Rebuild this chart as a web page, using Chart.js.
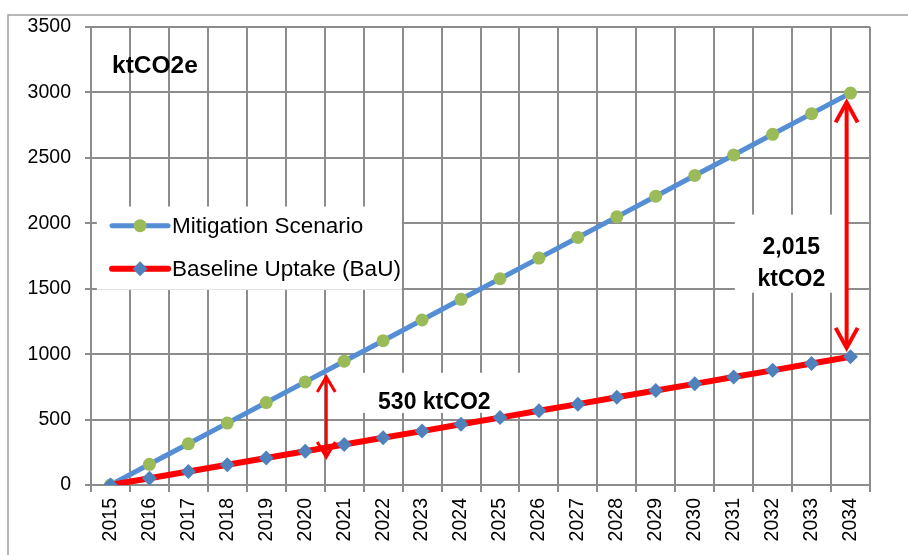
<!DOCTYPE html>
<html>
<head>
<meta charset="utf-8">
<script src="https://cdn.jsdelivr.net/npm/chart.js@4/dist/chart.umd.min.js"></script>
<style>
  html, body { margin: 0; padding: 0; background: #fff; }
  canvas { display: block; }
</style>
</head>
<body>
<canvas id="c" width="908" height="555"></canvas>
<script>
// ---- data ----
const years = ['2015','2016','2017','2018','2019','2020','2021','2022','2023','2024',
               '2025','2026','2027','2028','2029','2030','2031','2032','2033','2034'];
const mitigation = [0, 158, 315, 473, 630, 788, 946, 1103, 1261, 1419,
                    1576, 1734, 1892, 2049, 2207, 2365, 2522, 2680, 2838, 2995];
const baseline = [0, 52, 103, 155, 206, 258, 309, 361, 412, 464,
                  515, 567, 618, 670, 722, 773, 825, 876, 928, 980];
const yTicks = [0, 500, 1000, 1500, 2000, 2500, 3000, 3500];
const seriesNames = ['Mitigation Scenario', 'Baseline Uptake (BaU)'];
const unitLabel = 'ktCO2e';
const gapLabels = ['530 ktCO2', '2,015', 'ktCO2'];

const FONT = "'Liberation Sans', Arial, sans-serif";
const GRID = '#8c8c8c';

// annotation placement in data units (x: category index, y: value)
const notes = {
  unit:   { x: 0.04, y: 3145 },
  gap1:   { x: 6.87, y: 582, box: [6.02, 857, 10.9, 551] },
  gap2:   { x: 17.48, y1: 1768, y2: 1523, box: [16.03, 2066, 18.86, 1469] },
  legend: { box: [-0.35, 2128, 7.48, 1492], x0: 0.04, x1: 1.48, tx: 1.58, rows: [1982, 1653] },
  arrow1: { x: 5.54, top: 826, bottom: 214, hw: 9, hl: 15, lw: 3 },
  arrow2: { x: 18.9, top: 2924, bottom: 1048, hw: 11, hl: 20, lw: 4 }
};

const frame = {
  id: 'frame',
  beforeDraw(chart) {
    const ctx = chart.ctx;
    ctx.save();
    ctx.fillStyle = '#fff';
    ctx.fillRect(0, 0, chart.width, chart.height);
    ctx.strokeStyle = '#a0a0a0';
    ctx.lineWidth = 1.5;
    ctx.beginPath();
    ctx.moveTo(8, chart.height + 5);
    ctx.lineTo(8, 15);
    ctx.lineTo(chart.width + 5, 15);
    ctx.stroke();
    ctx.restore();
  }
};

function box(chart, b) {
  const xs = chart.scales.x, ys = chart.scales.y;
  const x0 = xs.getPixelForValue(b[0]), x1 = xs.getPixelForValue(b[2]);
  const y0 = ys.getPixelForValue(b[1]), y1 = ys.getPixelForValue(b[3]);
  chart.ctx.fillStyle = '#fff';
  chart.ctx.fillRect(x0, y0, x1 - x0, y1 - y0);
}

function arrow(chart, a) {
  const ctx = chart.ctx, xs = chart.scales.x, ys = chart.scales.y;
  const x = xs.getPixelForValue(a.x);
  const yt = ys.getPixelForValue(a.top), yb = ys.getPixelForValue(a.bottom);
  ctx.save();
  ctx.strokeStyle = '#ff0000';
  ctx.lineWidth = a.lw;
  ctx.lineCap = 'butt';
  ctx.lineJoin = 'miter';
  ctx.beginPath();
  ctx.moveTo(x, yt + 2); ctx.lineTo(x, yb - 2);
  ctx.stroke();
  ctx.beginPath();
  ctx.moveTo(x - a.hw, yt + a.hl); ctx.lineTo(x, yt); ctx.lineTo(x + a.hw, yt + a.hl);
  ctx.stroke();
  ctx.beginPath();
  ctx.moveTo(x - a.hw, yb - a.hl); ctx.lineTo(x, yb); ctx.lineTo(x + a.hw, yb - a.hl);
  ctx.stroke();
  ctx.restore();
}

const notesPlugin = {
  id: 'notes',
  beforeDatasetsDraw(chart) {
    const ctx = chart.ctx;
    ctx.save();
    box(chart, notes.gap1.box);
    box(chart, notes.gap2.box);
    box(chart, notes.legend.box);
    ctx.restore();
  },
  afterDatasetsDraw(chart) {
    const ctx = chart.ctx, xs = chart.scales.x, ys = chart.scales.y;
    ctx.save();
    ctx.fillStyle = '#000';
    ctx.textBaseline = 'alphabetic';
    // unit label
    ctx.font = 'bold 24.5px ' + FONT;
    ctx.textAlign = 'left';
    ctx.fillText(unitLabel, xs.getPixelForValue(notes.unit.x), ys.getPixelForValue(notes.unit.y));
    // gap labels
    ctx.font = 'bold 23px ' + FONT;
    ctx.fillText(gapLabels[0], xs.getPixelForValue(notes.gap1.x), ys.getPixelForValue(notes.gap1.y));
    ctx.textAlign = 'center';
    ctx.fillText(gapLabels[1], xs.getPixelForValue(notes.gap2.x), ys.getPixelForValue(notes.gap2.y1));
    ctx.fillText(gapLabels[2], xs.getPixelForValue(notes.gap2.x), ys.getPixelForValue(notes.gap2.y2));
    ctx.restore();

    arrow(chart, notes.arrow1);
    arrow(chart, notes.arrow2);

    // legend
    ctx.save();
    const L = notes.legend;
    const lx0 = xs.getPixelForValue(L.x0), lx1 = xs.getPixelForValue(L.x1);
    const tx = xs.getPixelForValue(L.tx);
    chart.data.datasets.forEach((ds, i) => {
      const y = ys.getPixelForValue(L.rows[i]);
      ctx.strokeStyle = ds.borderColor;
      ctx.lineWidth = ds.borderWidth;
      ctx.lineCap = 'round';
      ctx.beginPath();
      ctx.moveTo(lx0, y); ctx.lineTo(lx1, y);
      ctx.stroke();
      const cx = (lx0 + lx1) / 2, r = ds.pointRadius;
      ctx.fillStyle = ds.pointBackgroundColor;
      ctx.beginPath();
      if (ds.pointStyle === 'circle') {
        ctx.arc(cx, y, r, 0, Math.PI * 2);
      } else {
        ctx.moveTo(cx - r, y); ctx.lineTo(cx, y - r); ctx.lineTo(cx + r, y); ctx.lineTo(cx, y + r);
        ctx.closePath();
      }
      ctx.fill();
      ctx.fillStyle = '#000';
      ctx.font = '22.5px ' + FONT;
      ctx.textAlign = 'left';
      ctx.textBaseline = 'middle';
      ctx.fillText(ds.label, tx, y + 1);
    });
    ctx.restore();
  }
};

new Chart(document.getElementById('c'), {
  type: 'line',
  data: {
    labels: years,
    datasets: [
      {
        label: seriesNames[0],
        data: mitigation,
        borderColor: '#558ed5',
        borderWidth: 5,
        pointStyle: 'circle',
        pointRadius: 6.5,
        pointBackgroundColor: '#9bbb59',
        pointBorderColor: '#9bbb59',
        pointBorderWidth: 0,
        tension: 0,
        order: 1
      },
      {
        label: seriesNames[1],
        data: baseline,
        borderColor: '#ff0000',
        borderWidth: 6,
        pointStyle: 'rectRot',
        pointRadius: 7.5,
        pointBackgroundColor: '#4f81bd',
        pointBorderColor: '#4f81bd',
        pointBorderWidth: 0,
        tension: 0,
        order: 0
      }
    ]
  },
  options: {
    responsive: false,
    animation: false,
    devicePixelRatio: 1,
    layout: { padding: { left: 0, top: 27, right: 38, bottom: 0 } },
    plugins: { legend: { display: false }, tooltip: { enabled: false } },
    scales: {
      x: {
        type: 'category',
        offset: true,
        grid: { offset: true, color: GRID, lineWidth: 2, tickLength: 7, drawTicks: true },
        border: { color: GRID, width: 2 },
        ticks: {
          minRotation: 90, maxRotation: 90, autoSkip: false,
          color: '#000', padding: 6,
          font: { family: FONT, size: 19.5 }
        },
        afterFit(s) { s.height = 70; }
      },
      y: {
        min: 0, max: 3500,
        afterBuildTicks(s) { s.ticks = yTicks.map(v => ({ value: v })); },
        grid: { color: GRID, lineWidth: 2, tickLength: 6 },
        border: { color: GRID, width: 2 },
        ticks: {
          color: '#000', padding: 14,
          font: { family: FONT, size: 19.5 },
          callback: (v) => String(v)
        },
        afterFit(s) { s.width = 91; }
      }
    }
  },
  plugins: [frame, notesPlugin]
});
</script>
</body>
</html>
